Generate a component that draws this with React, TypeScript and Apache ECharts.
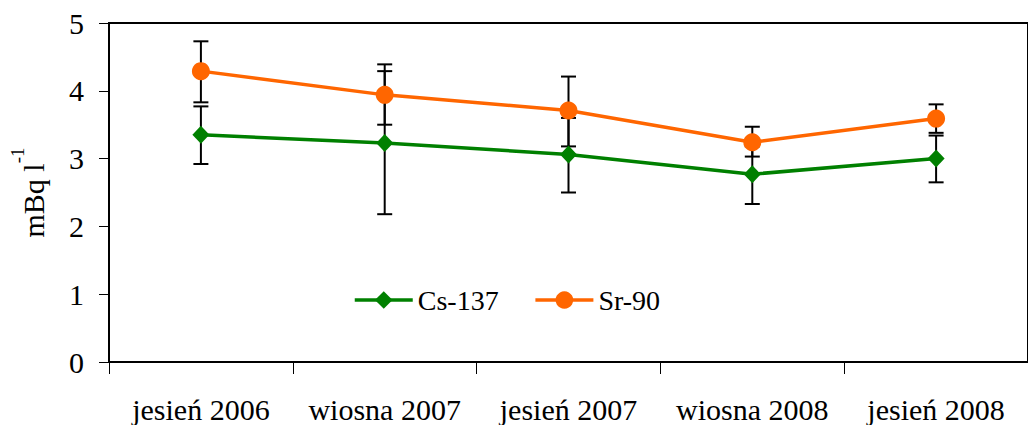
import React, { useEffect, useRef } from "react";
import * as echarts from "echarts";

const categories = ["jesień 2006", "wiosna 2007", "jesień 2007", "wiosna 2008", "jesień 2008"];
const yTicks = [0, 1, 2, 3, 4, 5];

const cs137 = [3.35, 3.23, 3.06, 2.77, 3.0];
const cs137Low = [2.92, 2.18, 2.5, 2.33, 2.65];
const cs137High = [3.77, 4.29, 3.6, 3.18, 3.34];

const sr90 = [4.29, 3.94, 3.71, 3.24, 3.59];
const sr90Low = [3.83, 3.5, 3.18, 3.03, 3.38];
const sr90High = [4.73, 4.39, 4.21, 3.47, 3.8];

const FONT = "Liberation Serif";

export default function App() {
  const ref = useRef<HTMLDivElement>(null);
  useEffect(() => {
    if (!ref.current) return;
    const chart = echarts.init(ref.current, undefined, { renderer: "svg" });
    const errData: number[][] = [];
    categories.forEach((_, i) => {
      errData.push([i, cs137Low[i], cs137High[i]]);
      errData.push([i, sr90Low[i], sr90High[i]]);
    });
    const renderItem = (params: any, api: any) => {
      const x = api.value(0);
      const lo = api.coord([x, api.value(1)]);
      const hi = api.coord([x, api.value(2)]);
      const hw = 7.5;
      const style = { stroke: "#000", lineWidth: 2 };
      return {
        type: "group",
        children: [
          { type: "line", shape: { x1: lo[0], y1: lo[1], x2: hi[0], y2: hi[1] }, style },
          { type: "line", shape: { x1: lo[0] - hw, y1: lo[1], x2: lo[0] + hw, y2: lo[1] }, style },
          { type: "line", shape: { x1: hi[0] - hw, y1: hi[1], x2: hi[0] + hw, y2: hi[1] }, style },
        ],
      };
    };
    chart.setOption({
      animation: false,
      backgroundColor: "#fff",
      textStyle: { fontFamily: FONT, color: "#000" },
      grid: {
        left: 107,
        top: 23,
        bottom: 63,
        right: -14,
        show: true,
        borderColor: "#000",
        borderWidth: 2,
      },
      legend: {
        left: 348,
        top: 281,
        itemWidth: 58,
        itemHeight: 22,
        itemGap: 35,
        data: ["Cs-137", "Sr-90"],
        lineStyle: { width: 3.5 },
        textStyle: { fontFamily: FONT, fontSize: 28, color: "#000" },
      },
      xAxis: {
        type: "category",
        data: categories,
        boundaryGap: true,
        axisLine: { lineStyle: { color: "#000", width: 2 } },
        axisTick: { show: true, length: 12, lineStyle: { color: "#000", width: 1 } },
        axisLabel: { fontFamily: FONT, fontSize: 30, color: "#000", margin: 32, interval: 0 },
      },
      yAxis: {
        type: "value",
        min: yTicks[0],
        max: yTicks[yTicks.length - 1],
        interval: 1,
        splitLine: { show: false },
        axisLine: { show: true, lineStyle: { color: "#000", width: 2 } },
        axisTick: { show: true, length: 10, lineStyle: { color: "#000", width: 1 } },
        axisLabel: { fontFamily: FONT, fontSize: 30, color: "#000", margin: 25 },
        name: "{a|mBq l}{s|-1}",
        nameLocation: "middle",
        nameGap: 61,
        nameRotate: 90,
        nameTextStyle: {
          rich: {
            a: { fontFamily: FONT, fontSize: 30, color: "#000", lineHeight: 40, verticalAlign: "bottom" },
            s: { fontFamily: FONT, fontSize: 19, color: "#000", lineHeight: 40, verticalAlign: "top" },
          },
        },
      },
      series: [
        {
          type: "custom",
          name: "err",
          renderItem,
          data: errData,
          encode: { x: 0, y: [1, 2] },
          z: 1,
          silent: true,
        },
        {
          type: "line",
          name: "Cs-137",
          data: cs137,
          symbol: "diamond",
          symbolSize: [17, 18],
          color: "#008000",
          lineStyle: { color: "#008000", width: 3.5 },
          itemStyle: { color: "#008000" },
          z: 3,
        },
        {
          type: "line",
          name: "Sr-90",
          data: sr90,
          symbol: "circle",
          symbolSize: 18,
          color: "#FF6600",
          lineStyle: { color: "#FF6600", width: 3.5 },
          itemStyle: { color: "#FF6600" },
          z: 3,
        },
      ],
    });
    return () => chart.dispose();
  }, []);
  return (
    <div
      ref={ref}
      style={{ position: "absolute", left: 0, top: 0, width: 1028, height: 425 }}
    />
  );
}
